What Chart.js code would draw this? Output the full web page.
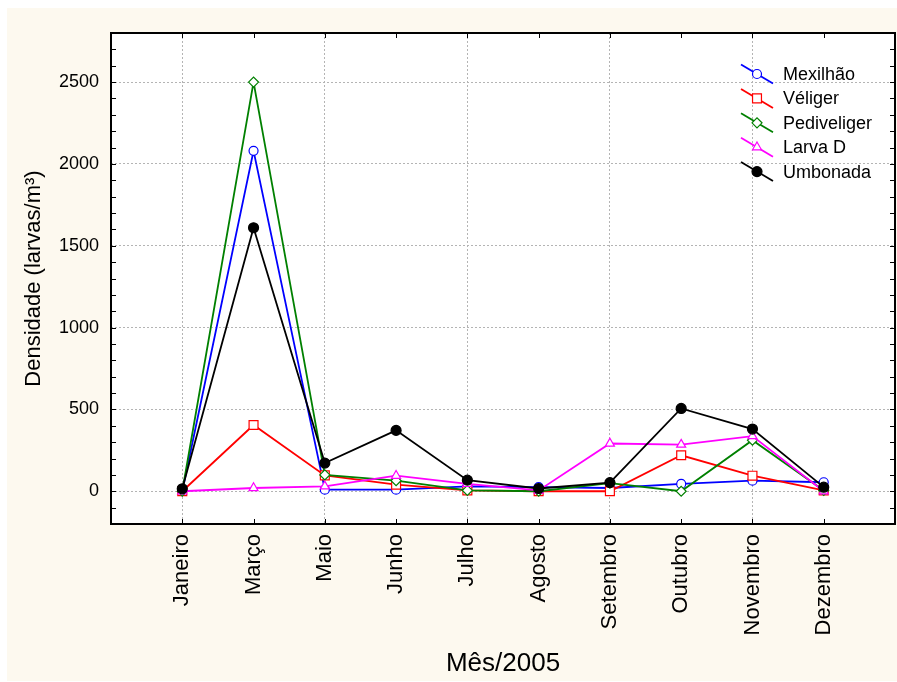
<!DOCTYPE html>
<html>
<head>
<meta charset="utf-8">
<script src="https://cdn.jsdelivr.net/npm/chart.js@4.4.1/dist/chart.umd.min.js"></script>
<style>
  html, body { margin: 0; padding: 0; background: #fff; }
</style>
</head>
<body>
<canvas id="grafico" width="897" height="682"></canvas>
<script>
var meses = ['Janeiro', 'Março', 'Maio', 'Junho', 'Julho', 'Agosto', 'Setembro', 'Outubro', 'Novembro', 'Dezembro'];

// densidade de larvas por mês (larvas/m3)
var mexilhao    = [0, 2080, 10, 10, 30, 25, 20, 45, 65, 55];
var veliger     = [0, 405, 97, 40, 5, 0, 0, 220, 95, 5];
var pediveliger = [0, 2500, 100, 65, 5, 0, 50, 0, 312, 5];
var larvaD      = [0, 20, 30, 95, 45, 5, 292, 285, 337, 0];
var umbonada    = [15, 1610, 172, 372, 68, 17, 53, 506, 380, 25];

var yTicks = [0, 500, 1000, 1500, 2000, 2500];

Chart.defaults.font.family = 'Arial, "Liberation Sans", sans-serif';
Chart.defaults.color = '#000';

function serie(nome, valores, cor, estilo, raio, fundo, ordem) {
    return {
        label: nome,
        data: valores.map(function (v, i) { return {x: i, y: v}; }),
        borderColor: cor,
        backgroundColor: cor,
        borderWidth: 1.8,
        pointStyle: estilo,
        pointRadius: raio,
        pointBorderColor: cor,
        pointBackgroundColor: fundo,
        pointBorderWidth: 1.2,
        order: ordem
    };
}

// fundo creme + area do grafico branca
var fundoPlugin = {
    id: 'fundo',
    beforeDraw: function (chart) {
        var ctx = chart.ctx, a = chart.chartArea;
        ctx.save();
        ctx.fillStyle = '#ffffff';
        ctx.fillRect(0, 0, chart.width, chart.height);
        ctx.fillStyle = '#fdf9ef';
        ctx.fillRect(7, 8, chart.width - 7, 673);
        ctx.fillStyle = '#ffffff';
        ctx.fillRect(a.left, a.top, a.right - a.left, a.bottom - a.top);
        ctx.restore();
    }
};

// moldura, marcas internas e legenda
var molduraPlugin = {
    id: 'moldura',
    afterDraw: function (chart) {
        var ctx = chart.ctx, a = chart.chartArea;
        var sx = chart.scales.x, sy = chart.scales.y;
        ctx.save();
        ctx.strokeStyle = '#000';
        ctx.lineWidth = 1;
        ctx.beginPath();
        for (var v = sy.min; v <= sy.max; v += 100) {
            var py = Math.round(sy.getPixelForValue(v)) + 0.5;
            ctx.moveTo(a.left, py); ctx.lineTo(a.left + 5, py);
            ctx.moveTo(a.right, py); ctx.lineTo(a.right - 5, py);
        }
        for (var i = 0; i < meses.length; i++) {
            var px = Math.round(sx.getPixelForValue(i)) + 0.5;
            ctx.moveTo(px, a.bottom); ctx.lineTo(px, a.bottom - 5);
            ctx.moveTo(px, a.top); ctx.lineTo(px, a.top + 5);
        }
        ctx.stroke();
        ctx.lineWidth = 2;
        ctx.strokeRect(a.left, a.top, a.right - a.left, a.bottom - a.top);

        // legenda
        var x0 = a.right - 154, y0 = a.top + 41, passo = 24.4;
        ctx.font = '18px Arial, "Liberation Sans", sans-serif';
        ctx.textBaseline = 'middle';
        ctx.textAlign = 'left';
        chart.data.datasets.forEach(function (ds, k) {
            var cy = y0 + k * passo;
            ctx.strokeStyle = ds.borderColor;
            ctx.lineWidth = 1.8;
            ctx.beginPath();
            ctx.moveTo(x0, cy - 9.5);
            ctx.lineTo(x0 + 32, cy + 9.5);
            ctx.stroke();
            ctx.fillStyle = ds.pointBackgroundColor;
            ctx.strokeStyle = ds.pointBorderColor;
            ctx.lineWidth = ds.pointBorderWidth;
            Chart.helpers.drawPoint(ctx, {pointStyle: ds.pointStyle, radius: ds.pointRadius, rotation: 0, borderWidth: ds.pointBorderWidth}, x0 + 16, cy);
            ctx.fillStyle = '#000';
            ctx.fillText(ds.label, x0 + 42, cy + 1);
        });
        ctx.restore();
    }
};

var ctx = document.getElementById('grafico').getContext('2d');
var chart = new Chart(ctx, {
    type: 'line',
    data: {
        datasets: [
            serie('Mexilhão', mexilhao, '#0000ff', 'circle', 4.5, '#ffffff', 4),
            serie('Véliger', veliger, '#ff0000', 'rect', 6.3, '#ffffff', 3),
            serie('Pediveliger', pediveliger, '#008000', 'rectRot', 5, '#ffffff', 2),
            serie('Larva D', larvaD, '#ff00ff', 'triangle', 5.2, '#ffffff', 1),
            serie('Umbonada', umbonada, '#000000', 'circle', 5, '#000000', 0)
        ]
    },
    options: {
        responsive: false,
        animation: false,
        devicePixelRatio: 1,
        layout: {autoPadding: false, padding: {top: 33, right: 2, left: 0, bottom: 0}},
        plugins: {legend: {display: false}, tooltip: {enabled: false}},
        scales: {
            x: {
                type: 'linear',
                min: -1,
                max: 10,
                afterBuildTicks: function (s) {
                    s.ticks = meses.map(function (m, i) { return {value: i}; });
                },
                afterFit: function (s) {
                    s.height = 158;
                    s.paddingLeft = 0;
                    s.paddingRight = 0;
                },
                ticks: {
                    autoSkip: false,
                    minRotation: 90,
                    maxRotation: 90,
                    padding: 10,
                    font: {size: 22},
                    callback: function (v) { return meses[v]; }
                },
                grid: {
                    drawTicks: false,
                    lineWidth: 1,
                    color: function (c) {
                        return (c.tick && c.tick.value % 2 === 0) ? '#b4b4b4' : 'rgba(0,0,0,0)';
                    }
                },
                border: {display: false, dash: [2, 2]},
                title: {display: true, text: 'Mês/2005', font: {size: 26}, padding: {top: 0, bottom: 3}}
            },
            y: {
                min: -200,
                max: 2800,
                afterBuildTicks: function (s) {
                    s.ticks = yTicks.map(function (v) { return {value: v}; });
                },
                afterFit: function (s) {
                    s.width = 111;
                    s.paddingTop = 0;
                    s.paddingBottom = 0;
                },
                ticks: {padding: 12, font: {size: 18}, callback: function (v) { return String(v); }},
                grid: {drawTicks: false, lineWidth: 1, color: '#b4b4b4'},
                border: {display: false, dash: [2, 2]},
                title: {display: true, text: 'Densidade (larvas/m³)', font: {size: 22}, padding: {top: 21, bottom: 0}}
            }
        }
    },
    plugins: [fundoPlugin, molduraPlugin]
});
</script>
</body>
</html>
